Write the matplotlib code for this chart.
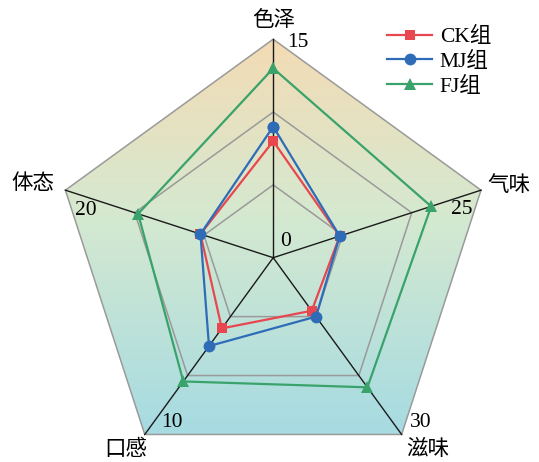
import numpy as np
import matplotlib
matplotlib.use("Agg")
import matplotlib.pyplot as plt
from matplotlib.patches import Polygon
from matplotlib.colors import LinearSegmentedColormap

plt.rcParams['font.family'] = ['Liberation Serif', 'Noto Sans CJK SC', 'DejaVu Sans']

categories = ['色泽', '气味', '滋味', '口感', '体态']
axis_max = [15, 25, 30, 10, 20]
ck = [8, 8, 9, 4, 7]
mj = [9, 8, 10, 5, 7]
fj = [13, 19, 22, 7, 13]
series = [('CK组', ck, '#e8474f', 's', 7.5),
          ('MJ组', mj, '#2e6cb8', 'o', 8.5),
          ('FJ组', fj, '#3aa36b', '^', 8.5)]

# geometry (unit radius, in pixels: center 273.2,257.7 radius 218.5)
R = 218.5
cx, cy = 273.2, 257.7
W, H = 539, 462
theta = np.deg2rad(np.arange(5) * 72)
sx, sy = np.sin(theta), np.cos(theta)

fig = plt.figure(figsize=(W / 100, H / 100), dpi=100)
ax = fig.add_axes([0, 0, 1, 1])
ax.set_xlim(-cx / R, (W - cx) / R)
ax.set_ylim(-(H - cy) / R, cy / R)
ax.axis('off')

# background gradient clipped to outer pentagon
outer = np.column_stack([sx, sy])
cmap = LinearSegmentedColormap.from_list(
    'bg', [(0.0, (166/255, 219/255, 226/255)),
           (0.55, (213/255, 233/255, 208/255)),
           (1.0, (244/255, 219/255, 180/255))])
grad = np.linspace(0, 1, 256).reshape(-1, 1)
ymin, ymax = sy.min(), sy.max()
im = ax.imshow(grad, cmap=cmap, origin='lower', aspect='auto',
               extent=[sx.min(), sx.max(), ymin, ymax], zorder=0)
clip = Polygon(outer, closed=True, transform=ax.transData, facecolor='none')
im.set_clip_path(clip)

# grid pentagons
for f in [1/3, 2/3, 1.0]:
    ax.add_patch(Polygon(outer * f, closed=True, fill=False,
                         edgecolor='#9a9a9a', lw=1.1, zorder=1))
# spokes
for i in range(5):
    ax.plot([0, sx[i]], [0, sy[i]], color='#1a1a1a', lw=1.0, zorder=2)

# data
for name, vals, color, mk, ms in series:
    r = np.array(vals) / np.array(axis_max)
    xs = np.append(r * sx, r[0] * sx[0])
    ys = np.append(r * sy, r[0] * sy[0])
    ax.plot(xs, ys, color=color, lw=1.6, marker=mk, markersize=ms,
            markeredgewidth=0, label=name, zorder=3)

fs = 15.5
# category labels, offsets in pixels from each vertex
cat_off = [(0, -18), (28, -4), (26, 15), (-19, 15), (-33, -6)]
for i, name in enumerate(categories):
    dx, dy = cat_off[i]
    ax.text(sx[i] + dx / R, sy[i] - dy / R, name, fontsize=fs,
            ha='center', va='center')

# max tick labels
max_off = [(25, 3), (-19, 19), (19, -12), (27, -12), (20, 20)]
for i, m in enumerate(axis_max):
    dx, dy = max_off[i]
    ax.text(sx[i] + dx / R, sy[i] - dy / R, str(m), fontsize=fs,
            ha='center', va='center')
ax.text(12 / R, 16 / R, '0', fontsize=fs, ha='center', va='center')

ax.legend(loc='upper left', bbox_to_anchor=(387 / W, 1 - 27 / H),
          frameon=False, fontsize=fs, handlelength=2.1, handletextpad=0.35,
          labelspacing=0.22, borderpad=0, borderaxespad=0)

fig.savefig('out.png', dpi=100)
